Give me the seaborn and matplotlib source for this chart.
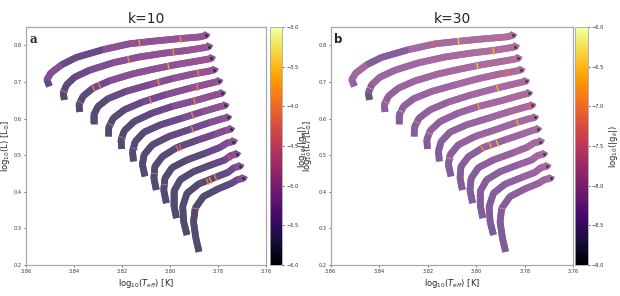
import numpy as np
import matplotlib
matplotlib.use("Agg")
import matplotlib.pyplot as plt
import seaborn as sns
from matplotlib.collections import LineCollection

# evolutionary tracks: log10(Teff) and log10(L)
TEFF = [
    [3.8502, 3.8513, 3.8497, 3.8451, 3.8390, 3.8280, 3.8170, 3.8074, 3.7964, 3.7874, 3.7850, 3.7844],
    [3.8440, 3.8445, 3.8431, 3.8397, 3.8335, 3.8239, 3.8129, 3.8019, 3.7929, 3.7863, 3.7839, 3.7833],
    [3.8376, 3.8379, 3.8362, 3.8321, 3.8252, 3.8156, 3.8060, 3.7977, 3.7895, 3.7852, 3.7828, 3.7822],
    [3.8318, 3.8318, 3.8300, 3.8259, 3.8184, 3.8087, 3.7991, 3.7902, 3.7840, 3.7815, 3.7810],
    [3.8256, 3.8255, 3.8236, 3.8190, 3.8115, 3.8019, 3.7916, 3.7821, 3.7796, 3.7791],
    [3.8201, 3.8204, 3.8190, 3.8149, 3.8074, 3.7991, 3.7895, 3.7809, 3.7784, 3.7778],
    [3.8152, 3.8156, 3.8145, 3.8108, 3.8039, 3.7950, 3.7868, 3.7795, 3.7770, 3.7765],
    [3.8104, 3.8115, 3.8108, 3.8074, 3.8005, 3.7923, 3.7840, 3.7784, 3.7759, 3.7754],
    [3.8057, 3.8067, 3.8063, 3.8032, 3.7971, 3.7881, 3.7813, 3.7771, 3.7747, 3.7741],
    [3.8015, 3.8026, 3.8021, 3.7991, 3.7929, 3.7854, 3.7792, 3.7760, 3.7736, 3.7730],
    [3.7973, 3.7984, 3.7984, 3.7957, 3.7902, 3.7826, 3.7771, 3.7747, 3.7722, 3.7716],
    [3.7929, 3.7943, 3.7947, 3.7929, 3.7881, 3.7813, 3.7758, 3.7733, 3.7708, 3.7703],
    [3.7879, 3.7892, 3.7902, 3.7895, 3.7861, 3.7799, 3.7744, 3.7719, 3.7694, 3.7689],
]
LUM = [
    [0.688, 0.706, 0.724, 0.747, 0.767, 0.788, 0.804, 0.811, 0.818, 0.823, 0.827, 0.834],
    [0.651, 0.670, 0.692, 0.713, 0.732, 0.752, 0.768, 0.779, 0.786, 0.793, 0.796, 0.804],
    [0.618, 0.638, 0.661, 0.683, 0.703, 0.722, 0.736, 0.747, 0.756, 0.761, 0.764, 0.772],
    [0.586, 0.609, 0.633, 0.654, 0.674, 0.692, 0.709, 0.722, 0.729, 0.733, 0.740],
    [0.551, 0.576, 0.601, 0.624, 0.645, 0.665, 0.683, 0.698, 0.702, 0.709],
    [0.517, 0.542, 0.567, 0.592, 0.615, 0.633, 0.649, 0.665, 0.669, 0.676],
    [0.483, 0.510, 0.537, 0.563, 0.583, 0.601, 0.618, 0.632, 0.636, 0.643],
    [0.442, 0.474, 0.501, 0.528, 0.551, 0.569, 0.588, 0.599, 0.603, 0.610],
    [0.405, 0.437, 0.469, 0.496, 0.521, 0.542, 0.557, 0.567, 0.571, 0.578],
    [0.369, 0.405, 0.437, 0.466, 0.487, 0.505, 0.521, 0.534, 0.537, 0.545],
    [0.328, 0.364, 0.401, 0.433, 0.455, 0.474, 0.487, 0.499, 0.503, 0.510],
    [0.282, 0.318, 0.360, 0.396, 0.421, 0.439, 0.453, 0.466, 0.470, 0.477],
    [0.236, 0.273, 0.318, 0.355, 0.387, 0.408, 0.423, 0.433, 0.437, 0.444],
]

# log10(|g_k|) along each track, k=10
G_K10 = [
    [-5.75, -5.35, -5.2, -5.2, -5.8, -5.2, -5.15, -5.1, -5.05, -5.05, -5.05, -5.15],
    [-5.7, -5.7, -5.65, -5.55, -5.35, -5.2, -5.15, -5.1, -5.05, -5.05, -5.05, -5.15],
    [-5.7, -5.7, -5.7, -5.55, -5.25, -5.15, -5.15, -5.1, -5.05, -5.05, -5.05, -5.15],
    [-5.7, -5.7, -5.7, -5.6, -5.45, -5.25, -5.15, -5.1, -5.05, -5.05, -5.15],
    [-5.7, -5.7, -5.7, -5.6, -5.5, -5.25, -5.15, -5.05, -5.05, -5.15],
    [-5.7, -5.7, -5.7, -5.65, -5.55, -5.35, -5.15, -5.1, -5.05, -5.15],
    [-5.7, -5.7, -5.7, -5.65, -5.55, -5.4, -5.2, -5.1, -5.05, -5.15],
    [-5.7, -5.7, -5.7, -5.65, -5.6, -5.45, -5.25, -5.15, -5.1, -5.15],
    [-5.7, -5.7, -5.7, -5.65, -5.6, -5.5, -5.3, -5.15, -5.1, -5.15],
    [-5.7, -5.7, -5.7, -5.7, -5.65, -5.55, -5.4, -5.2, -5.15, -5.15],
    [-5.7, -5.7, -5.7, -5.7, -5.65, -5.6, -5.45, -5.25, -5.15, -5.15],
    [-5.7, -5.7, -5.7, -5.7, -5.7, -5.6, -5.5, -5.3, -5.15, -5.15],
    [-5.7, -5.7, -5.7, -5.7, -5.7, -5.65, -5.55, -5.35, -5.2, -5.15],
]
# k=30
G_K30 = [
    [-8.3, -8.1, -8.05, -8.05, -8.7, -8.05, -8.0, -7.95, -7.9, -7.9, -7.9, -8.0],
    [-8.85, -8.75, -8.2, -8.15, -8.1, -8.05, -8.0, -7.95, -7.9, -7.9, -7.9, -8.0],
    [-8.35, -8.3, -8.25, -8.2, -8.1, -8.05, -8.0, -7.95, -7.9, -7.9, -7.9, -8.0],
    [-8.35, -8.35, -8.3, -8.2, -8.1, -8.05, -8.0, -7.95, -7.9, -7.9, -8.0],
    [-8.35, -8.35, -8.3, -8.25, -8.15, -8.05, -8.0, -7.95, -7.95, -8.0],
    [-8.4, -8.35, -8.3, -8.25, -8.15, -8.1, -8.0, -7.95, -7.95, -8.0],
    [-8.4, -8.4, -8.35, -8.3, -8.2, -8.1, -8.05, -7.95, -7.95, -8.0],
    [-8.4, -8.4, -8.35, -8.3, -8.2, -8.1, -8.05, -8.0, -7.95, -8.0],
    [-8.4, -8.4, -8.4, -8.3, -8.25, -8.15, -8.05, -8.0, -7.95, -8.0],
    [-8.4, -8.4, -8.4, -8.35, -8.25, -8.15, -8.1, -8.0, -7.95, -8.0],
    [-8.45, -8.4, -8.4, -8.35, -8.3, -8.2, -8.1, -8.0, -7.95, -8.0],
    [-8.45, -8.45, -8.4, -8.4, -8.3, -8.2, -8.1, -8.05, -8.0, -8.0],
    [-8.45, -8.45, -8.45, -8.4, -8.35, -8.25, -8.15, -8.05, -8.0, -8.0],
]

# narrow high-|g_k| models on the upper branch: track index, log10(Teff), value
K10_TRACK = [0, 0, 1, 1, 2, 2, 2, 3, 3, 4, 4, 5, 6, 7, 8, 8, 10, 11, 11, 11]
K10_TEFF = [3.8128, 3.7958, 3.8174, 3.7986, 3.8319, 3.8296, 3.8007, 3.8048, 3.7885,
            3.8083, 3.7889, 3.7900, 3.7907, 3.7910, 3.7972, 3.7960, 3.7753, 3.7845, 3.7835, 3.7812]
K10_G = [-3.8, -3.9, -3.9, -3.9, -4.1, -4.0, -3.8, -3.9, -4.0,
         -4.0, -4.1, -3.9, -4.0, -4.0, -4.2, -4.3, -4.4, -3.9, -3.8, -4.0]
# faint ones on the lower branch: track index, log10(L), value
K10_LOW_TRACK = [1, 2, 4, 5, 6, 8, 9, 12]
K10_LOW_LUM = [0.674, 0.645, 0.585, 0.550, 0.520, 0.450, 0.420, 0.380]
K10_LOW_G = [-4.7, -4.7, -4.7, -4.8, -4.8, -4.7, -4.8, -4.6]

K30_TRACK = [0, 0, 1, 2, 3, 3, 4, 5, 7, 8, 8, 8, 6]
K30_TEFF = [3.8074, 3.8177, 3.7932, 3.7998, 3.7881, 3.7868, 3.7916, 3.7991, 3.7833,
            3.7977, 3.7943, 3.7916, 3.7778]
K30_G = [-6.5, -7.3, -6.6, -6.5, -7.2, -7.2, -6.6, -6.8, -6.7,
         -6.9, -6.7, -6.5, -7.3]
K30_LOW_TRACK = [1, 2, 3, 4, 5, 7, 12]
K30_LOW_LUM = [0.683, 0.645, 0.620, 0.590, 0.560, 0.492, 0.378]
K30_LOW_G = [-7.3, -7.5, -7.2, -7.5, -7.4, -7.2, -7.5]

sns.set_style("white")
plt.rcParams["font.family"] = ["DejaVu Sans"]
plt.rcParams["mathtext.fontset"] = "dejavusans"

cmap = plt.get_cmap("inferno")


def washed(vals, norm, alpha):
    c = np.atleast_2d(cmap(norm(np.asarray(vals, dtype=float))))[:, :3]
    return alpha * c + (1 - alpha)


def stripe_angle(ax, xs, ys, i):
    p = ax.transData.transform([[xs[i], ys[i]], [xs[i + 1], ys[i + 1]]])
    return np.degrees(np.arctan2(p[1, 1] - p[0, 1], p[1, 0] - p[0, 0]))


def draw_panel(ax, cax, gvals, up, low, vmin, vmax, alpha, title, letter, letter_family,
               ylab_x, cblab_x):
    norm = matplotlib.colors.Normalize(vmin, vmax)
    ax.set_xlim(3.86, 3.76)
    ax.set_ylim(0.2, 0.85)
    lw = 4.8

    for t in range(len(TEFF)):
        x, y, g = np.array(TEFF[t]), np.array(LUM[t]), np.array(gvals[t])
        # underlay so the joints between coloured pieces have no gaps
        ax.plot(x, y, color=washed([g.mean()], norm, alpha)[0], lw=lw,
                solid_capstyle="butt", solid_joinstyle="round", zorder=2)
        segs = np.stack([np.column_stack([x[:-1], y[:-1]]),
                         np.column_stack([x[1:], y[1:]])], axis=1)
        lc = LineCollection(segs, colors=washed((g[:-1] + g[1:]) / 2, norm, alpha),
                            linewidths=lw, capstyle="butt", zorder=3)
        ax.add_collection(lc)

    # stripes on the upper branch
    for t, te, gv in zip(*up):
        xs, ys = np.array(TEFF[t][2:]), np.array(LUM[t][2:])
        yy = np.interp(te, xs[::-1], ys[::-1])
        i = int(np.clip(np.searchsorted(-xs, -te) - 1, 0, len(xs) - 2))
        ang = stripe_angle(ax, xs, ys, i)
        ax.plot([te], [yy], marker=(2, 0, ang), ms=lw + 0.2, mew=1.0,
                color=washed([gv], norm, 0.85)[0], linestyle="none", zorder=4)
    # faint stripes on the lower branch
    for t, lv, gv in zip(*low):
        xs, ys = np.array(TEFF[t][:4]), np.array(LUM[t][:4])
        lv = np.clip(lv, ys[0] + 0.005, ys[-1])
        xx = np.interp(lv, ys, xs)
        i = int(np.clip(np.searchsorted(ys, lv) - 1, 0, 2))
        ang = stripe_angle(ax, xs, ys, i)
        ax.plot([xx], [lv], marker=(2, 0, ang), ms=lw + 0.2, mew=0.8,
                color=washed([gv], norm, alpha)[0], linestyle="none", zorder=4)

    # dark model at the tip of each hook
    hx = [tr[-2] for tr in TEFF]
    hy = [tr[-2] for tr in LUM]
    sns.scatterplot(x=hx, y=hy, color=washed([vmin + 0.15], norm, alpha)[0] * 0.6,
                    s=4, linewidth=0, ax=ax, zorder=5)

    ax.set_xticks([3.86, 3.84, 3.82, 3.80, 3.78, 3.76])
    ax.set_yticks([0.2, 0.3, 0.4, 0.5, 0.6, 0.7, 0.8])
    ax.tick_params(labelsize=3.6, length=1.5, width=0.5, pad=1.5,
                   colors="#333333", bottom=True, left=True)
    for s in ax.spines.values():
        s.set_color("#a8a8a8")
        s.set_linewidth(0.9)
    ax.set_xlabel(r"log$_{10}$($T_{eff}$) [K]", fontsize=6, labelpad=2)
    ax.set_ylabel(r"log$_{10}$(L) [L$_{\odot}$]", fontsize=6)
    ax.yaxis.set_label_coords(ylab_x, 0.5)
    ax.set_title(title, fontsize=10, pad=3)
    ax.text(0.015, 0.975, letter, transform=ax.transAxes, fontsize=8.5,
            fontweight="bold", family=letter_family, va="top", ha="left")

    sm = matplotlib.cm.ScalarMappable(norm=norm, cmap=cmap)
    cb = plt.colorbar(sm, cax=cax)
    cb.set_ticks(np.arange(vmin, vmax + 0.01, 0.5))
    cb.ax.tick_params(labelsize=3.6, length=1.5, width=0.5, pad=1.5)
    cb.outline.set_edgecolor("#a8a8a8")
    cb.outline.set_linewidth(0.6)
    cb.set_label(r"log$_{10}$(|g$_k$|)", fontsize=6)
    cb.ax.yaxis.set_label_coords(cblab_x, 0.5)


fig = plt.figure(figsize=(6.2, 2.96), dpi=100)
ax1 = fig.add_axes([0.0419, 0.1047, 0.3871, 0.8041])
cax1 = fig.add_axes([0.4355, 0.1047, 0.0194, 0.8041])
ax2 = fig.add_axes([0.5334, 0.1047, 0.3913, 0.8041])
cax2 = fig.add_axes([0.9282, 0.1047, 0.0194, 0.8041])

draw_panel(ax1, cax1, G_K10, (K10_TRACK, K10_TEFF, K10_G),
           (K10_LOW_TRACK, K10_LOW_LUM, K10_LOW_G), -6.0, -3.0, 0.74,
           "k=10", "a", "DejaVu Serif", -0.058, 2.15)
draw_panel(ax2, cax2, G_K30, (K30_TRACK, K30_TEFF, K30_G),
           (K30_LOW_TRACK, K30_LOW_LUM, K30_LOW_G), -9.0, -6.0, 0.66,
           "k=30", "b", "DejaVu Sans", -0.068, 2.65)

fig.savefig("out.png", dpi=100)
